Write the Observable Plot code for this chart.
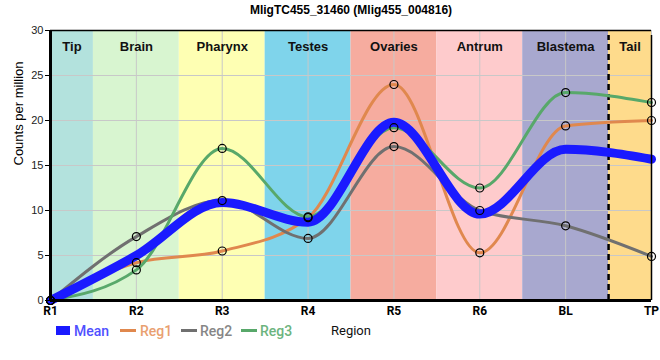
<!DOCTYPE html>
<html>
<head>
<meta charset="utf-8">
<script src="https://cdn.jsdelivr.net/npm/d3@7"></script>
<script src="https://cdn.jsdelivr.net/npm/@observablehq/plot@0.6"></script>
<style>
  html, body { margin: 0; padding: 0; background: #fff; }
  #wrap { position: relative; width: 660px; height: 360px; }
  #legend { position: absolute; left: 0; top: 320px; width: 660px; height: 22px; font-family: Roboto, "Liberation Sans", sans-serif; font-size: 14px; font-weight: 500; }
  .item { position: absolute; top: 2px; height: 18px; line-height: 18px; }
  .sw { position: absolute; }
</style>
</head>
<body>
<div id="wrap"></div>
<script>
const title = "MligTC455_31460 (Mlig455_004816)";
const yLabel = "Counts per million";
const xLabel = "Region";
const regions = ["R1", "R2", "R3", "R4", "R5", "R6", "BL", "TP"];
const bands = ["Tip", "Brain", "Pharynx", "Testes", "Ovaries", "Antrum", "Blastema", "Tail"];
const bandColors = ["#b3e2dd", "#d8f5d0", "#feffb3", "#7fd4eb", "#f6ac9f", "#fecbcc", "#a8a8cf", "#fedb8c"];
const yTicks = [0, 5, 10, 15, 20, 25, 30];

const meanVals = [0, 5.0, 10.9, 8.7, 19.8, 9.6, 16.8, 15.7];
const reg1 = [0, 4.2, 5.5, 9.2, 24.0, 5.3, 19.4, 20.0];
const reg2 = [0, 7.1, 11.1, 6.9, 17.1, 10.0, 8.3, 4.9];
const reg3 = [0, 3.4, 16.9, 9.3, 19.2, 12.5, 23.1, 22.0];

const seriesNames = ["Mean", "Reg1", "Reg2", "Reg3"];
const seriesColors = ["#1a1aff", "#e0884e", "#707070", "#58a86a"];
const legendTextColors = ["#5050ff", "#e9a070", "#868686", "#6cb47e"];

const last = regions.length - 1;
const toRows = (vals) => vals.map((v, i) => ({i, v}));
const bandRows = bands.map((b, i) => ({b, i, x1: Math.max(0, i - 0.5), x2: Math.min(last, i + 0.5), c: bandColors[i]}));
const regRows = [reg1, reg2, reg3].flatMap((vals, k) => vals.map((v, i) => ({i, v, k})));

const chart = Plot.plot({
  width: 660,
  height: 320,
  marginLeft: 50,
  marginRight: 9,
  marginTop: 30,
  marginBottom: 20,
  style: {fontFamily: "'Liberation Sans', Arial, sans-serif", background: "white"},
  x: {domain: [0, last], axis: null},
  y: {domain: [0, 30], axis: null},
  marks: [
    Plot.rect(bandRows, {x1: "x1", x2: "x2", y1: 0, y2: 30, fill: "c"}),
    Plot.ruleX(d3.range(regions.length), {stroke: "#c8c8c8", strokeWidth: 1}),
    Plot.ruleY(yTicks, {stroke: "#c8c8c8", strokeWidth: 1}),
    Plot.text(bandRows, {x: d => (d.x1 + d.x2) / 2, text: "b", frameAnchor: "top", dy: 11, fontSize: 13, fontWeight: "bold", fill: "#111"}),
    Plot.ruleX([last - 0.5], {stroke: "black", strokeWidth: 2.5, strokeDasharray: "6,4", y1: 0, y2: 30, insetBottom: -5}),
    Plot.line(toRows(reg1), {x: "i", y: "v", stroke: seriesColors[1], strokeWidth: 3, curve: "monotone-x"}),
    Plot.line(toRows(reg2), {x: "i", y: "v", stroke: seriesColors[2], strokeWidth: 3, curve: "monotone-x"}),
    Plot.line(toRows(reg3), {x: "i", y: "v", stroke: seriesColors[3], strokeWidth: 3, curve: "monotone-x"}),
    Plot.line(toRows(meanVals), {x: "i", y: "v", stroke: seriesColors[0], strokeWidth: 9, curve: "monotone-x"}),
    Plot.dot(regRows, {x: "i", y: "v", r: 4, stroke: "black", strokeWidth: 1.2, fill: "none"}),
    Plot.ruleY([30], {stroke: "black", strokeWidth: 1.5}),
    Plot.ruleX([last], {stroke: "black", strokeWidth: 1.5, y1: 0, y2: 30, insetBottom: -5}),
    Plot.ruleX([0], {stroke: "black", strokeWidth: 3, y1: 0, y2: 30}),
    Plot.ruleY([0], {stroke: "black", strokeWidth: 3}),
    Plot.axisY({ticks: yTicks, tickSize: 5, tickPadding: 2, fontSize: 11, stroke: "black", fill: "#222", label: null}),
    Plot.axisX({ticks: d3.range(regions.length), tickFormat: i => regions[i], tickSize: 0, tickPadding: 6, fontSize: 12, fontWeight: "bold", fill: "black", label: null, fontFamily: "Roboto, sans-serif"}),
    Plot.text([title], {frameAnchor: "top", dy: -20, fontSize: 12, fontWeight: "bold", fill: "black", lineAnchor: "middle"}),
    Plot.text([yLabel], {frameAnchor: "left", dx: -32, rotate: -90, fontSize: 13, fill: "black"})
  ]
});

const wrap = document.getElementById("wrap");
wrap.appendChild(chart);

const legend = document.createElement("div");
legend.id = "legend";
const swatchX = [56, 120, 181, 241];
const textX = [74, 140, 200, 260];
seriesNames.forEach((name, k) => {
  const sw = document.createElement("div");
  sw.className = "sw";
  sw.style.left = swatchX[k] + "px";
  if (k === 0) {
    sw.style.top = "6px"; sw.style.width = "14px"; sw.style.height = "9px";
  } else {
    sw.style.top = "9px"; sw.style.width = "16px"; sw.style.height = "3px";
  }
  sw.style.background = seriesColors[k];
  legend.appendChild(sw);
  const t = document.createElement("div");
  t.className = "item";
  t.style.left = textX[k] + "px";
  t.style.color = legendTextColors[k];
  t.textContent = name;
  legend.appendChild(t);
});
const rl = document.createElement("div");
rl.className = "item";
rl.style.left = "331px";
rl.style.color = "#111";
rl.style.fontWeight = "400";
rl.style.fontSize = "13px";
rl.textContent = xLabel;
legend.appendChild(rl);
wrap.appendChild(legend);
</script>
</body>
</html>
